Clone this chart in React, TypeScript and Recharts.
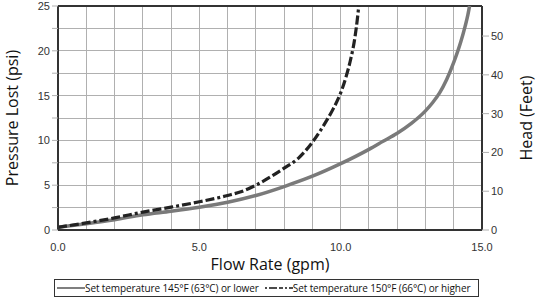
import React from 'react';
import { ComposedChart, XAxis, YAxis, Line, Label } from 'recharts';

// flow rate (gpm) vs pressure lost (psi)
const lowTemp = [
  { x: 0, y: 0.3 }, { x: 1, y: 0.7 }, { x: 2, y: 1.15 }, { x: 3, y: 1.7 }, { x: 4, y: 2.1 },
  { x: 5, y: 2.55 }, { x: 6, y: 3.1 }, { x: 7, y: 3.85 }, { x: 8, y: 4.85 }, { x: 9, y: 6.0 },
  { x: 10, y: 7.4 }, { x: 11, y: 9.0 }, { x: 11.5, y: 9.9 }, { x: 12, y: 10.8 }, { x: 12.5, y: 11.9 },
  { x: 13, y: 13.3 }, { x: 13.25, y: 14.2 }, { x: 13.5, y: 15.3 }, { x: 13.75, y: 16.8 }, { x: 14, y: 18.7 },
  { x: 14.25, y: 21.0 }, { x: 14.4, y: 22.7 }, { x: 14.5, y: 24.0 }, { x: 14.56, y: 25 },
];

const highTemp = [
  { x: 0, y: 0.3 }, { x: 1, y: 0.8 }, { x: 2, y: 1.35 }, { x: 3, y: 2.0 }, { x: 4, y: 2.55 },
  { x: 5, y: 3.15 }, { x: 6, y: 3.85 }, { x: 6.5, y: 4.3 }, { x: 7, y: 5.0 }, { x: 7.5, y: 5.9 },
  { x: 8, y: 6.9 }, { x: 8.5, y: 8.0 }, { x: 9, y: 9.8 }, { x: 9.5, y: 12.2 }, { x: 9.75, y: 13.6 },
  { x: 10, y: 15.3 }, { x: 10.2, y: 17.2 }, { x: 10.35, y: 19.0 }, { x: 10.5, y: 21.4 }, { x: 10.6, y: 23.8 },
  { x: 10.64, y: 25 },
];

const xTicks = [0, 1, 2, 3, 4, 5, 6, 7, 8, 9, 10, 11, 12, 13, 14, 15];
const psiTicks = [0, 2.5, 5, 7.5, 10, 12.5, 15, 17.5, 20, 22.5, 25];
const feetTicks = [0, 10, 20, 30, 40, 50];
const psiToFeet = 2.31;

const legendNames = ['Set temperature 145°F (63°C) or lower', 'Set temperature 150°F (66°C) or higher'];

const tickStyle = { fill: '#333', fontSize: 11, fontFamily: 'Liberation Sans, Arial' };
const titleFont = 'Open Sans, sans-serif';
const gridColor = '#b0b0b0';

export default function App() {
  const xMin = xTicks[0];
  const xMax = xTicks[xTicks.length - 1];
  const yMin = psiTicks[0];
  const yMax = psiTicks[psiTicks.length - 1];
  const lowFeet = lowTemp.map((d) => ({ x: d.x, ft: d.y * psiToFeet }));
  // grid drawn as plain line series through the axis scales
  const vGrid = xTicks.slice(1, -1).map((t) => [{ x: t, y: yMin }, { x: t, y: yMax }]);
  const hGrid = psiTicks.slice(1).map((t) => [{ x: xMin, y: t }, { x: xMax, y: t }]);

  return (
    <div style={{ position: 'absolute', left: 0, top: 0, width: 540, height: 298, background: '#fff' }}>
      <ComposedChart width={540} height={298} data={lowTemp} margin={{ top: 6, right: 0, left: 0, bottom: 0 }}>
        <XAxis
          type="number"
          dataKey="x"
          domain={[xMin, xMax]}
          ticks={xTicks}
          interval={0}
          tickFormatter={(v) => (v % 5 === 0 ? v.toFixed(1) : '')}
          tick={tickStyle}
          tickLine={false}
          axisLine={{ stroke: '#333', strokeWidth: 2 }}
          height={68}
          dy={5}
        >
          <Label value="Flow Rate (gpm)" position="insideTop" offset={29} style={{ fontSize: 16, fontFamily: titleFont, fill: '#111' }} />
        </XAxis>
        <YAxis
          type="number"
          domain={[yMin, yMax]}
          ticks={psiTicks}
          interval={0}
          tickFormatter={(v) => (v % 5 === 0 ? String(v) : '')}
          tick={tickStyle}
          stroke={gridColor}
          tickLine
          tickSize={6}
          axisLine={{ stroke: '#333', strokeWidth: 2 }}
          width={58}
        >
          <Label value="Pressure Lost (psi)" angle={-90} position="insideLeft" offset={12} style={{ textAnchor: 'middle', fontSize: 16, fontFamily: titleFont, fill: '#111' }} />
        </YAxis>
        <YAxis
          yAxisId="right"
          orientation="right"
          type="number"
          domain={[0, yMax * psiToFeet]}
          allowDataOverflow
          ticks={feetTicks}
          interval={0}
          tick={tickStyle}
          stroke={gridColor}
          tickLine
          tickSize={7}
          axisLine={{ stroke: '#333', strokeWidth: 2 }}
          width={58}
        >
          <Label value="Head (Feet)" angle={-90} position="insideRight" offset={14} style={{ textAnchor: 'middle', fontSize: 16, fontFamily: titleFont, fill: '#111' }} />
        </YAxis>
        <Line data={lowFeet} dataKey="ft" yAxisId="right" stroke="none" dot={false} activeDot={false} legendType="none" isAnimationActive={false} />
        {vGrid.map((seg, i) => (
          <Line key={'v' + i} data={seg} dataKey="y" type="linear" stroke={gridColor} strokeWidth={1} shapeRendering="crispEdges" dot={false} activeDot={false} legendType="none" isAnimationActive={false} />
        ))}
        {hGrid.map((seg, i) => (
          <Line
            key={'h' + i}
            data={seg}
            dataKey="y"
            type="linear"
            stroke={i === hGrid.length - 1 ? '#333' : gridColor}
            strokeWidth={i === hGrid.length - 1 ? 2 : 1}
            shapeRendering="crispEdges"
            dot={false}
            activeDot={false}
            legendType="none"
            isAnimationActive={false}
          />
        ))}
        <Line data={lowTemp} dataKey="y" type="monotoneX" stroke="#7a7a7a" strokeWidth={3.5} dot={false} activeDot={false} isAnimationActive={false} />
        <Line data={highTemp} dataKey="y" type="monotoneX" stroke="#222" strokeWidth={3.2} strokeDasharray="9 3 9 3 9 3 3 3" dot={false} activeDot={false} isAnimationActive={false} />
      </ComposedChart>
      <div
        style={{
          position: 'absolute', left: 54, top: 279, width: 425, height: 18, border: '1px solid #333',
          display: 'flex', alignItems: 'center', fontFamily: titleFont, fontSize: 10, letterSpacing: -0.1, color: '#111',
          boxSizing: 'border-box', whiteSpace: 'nowrap',
        }}
      >
        <svg width={28} height={6} style={{ marginLeft: 2 }}>
          <line x1={0} y1={3} x2={28} y2={3} stroke="#555" strokeWidth={1.5} />
        </svg>
        <span>{legendNames[0]}</span>
        <svg width={28} height={6} style={{ marginLeft: 6 }}>
          <line x1={0} y1={3} x2={28} y2={3} stroke="#111" strokeWidth={1.5} strokeDasharray="2 2 8 2 4 2" />
        </svg>
        <span>{legendNames[1]}</span>
      </div>
    </div>
  );
}
